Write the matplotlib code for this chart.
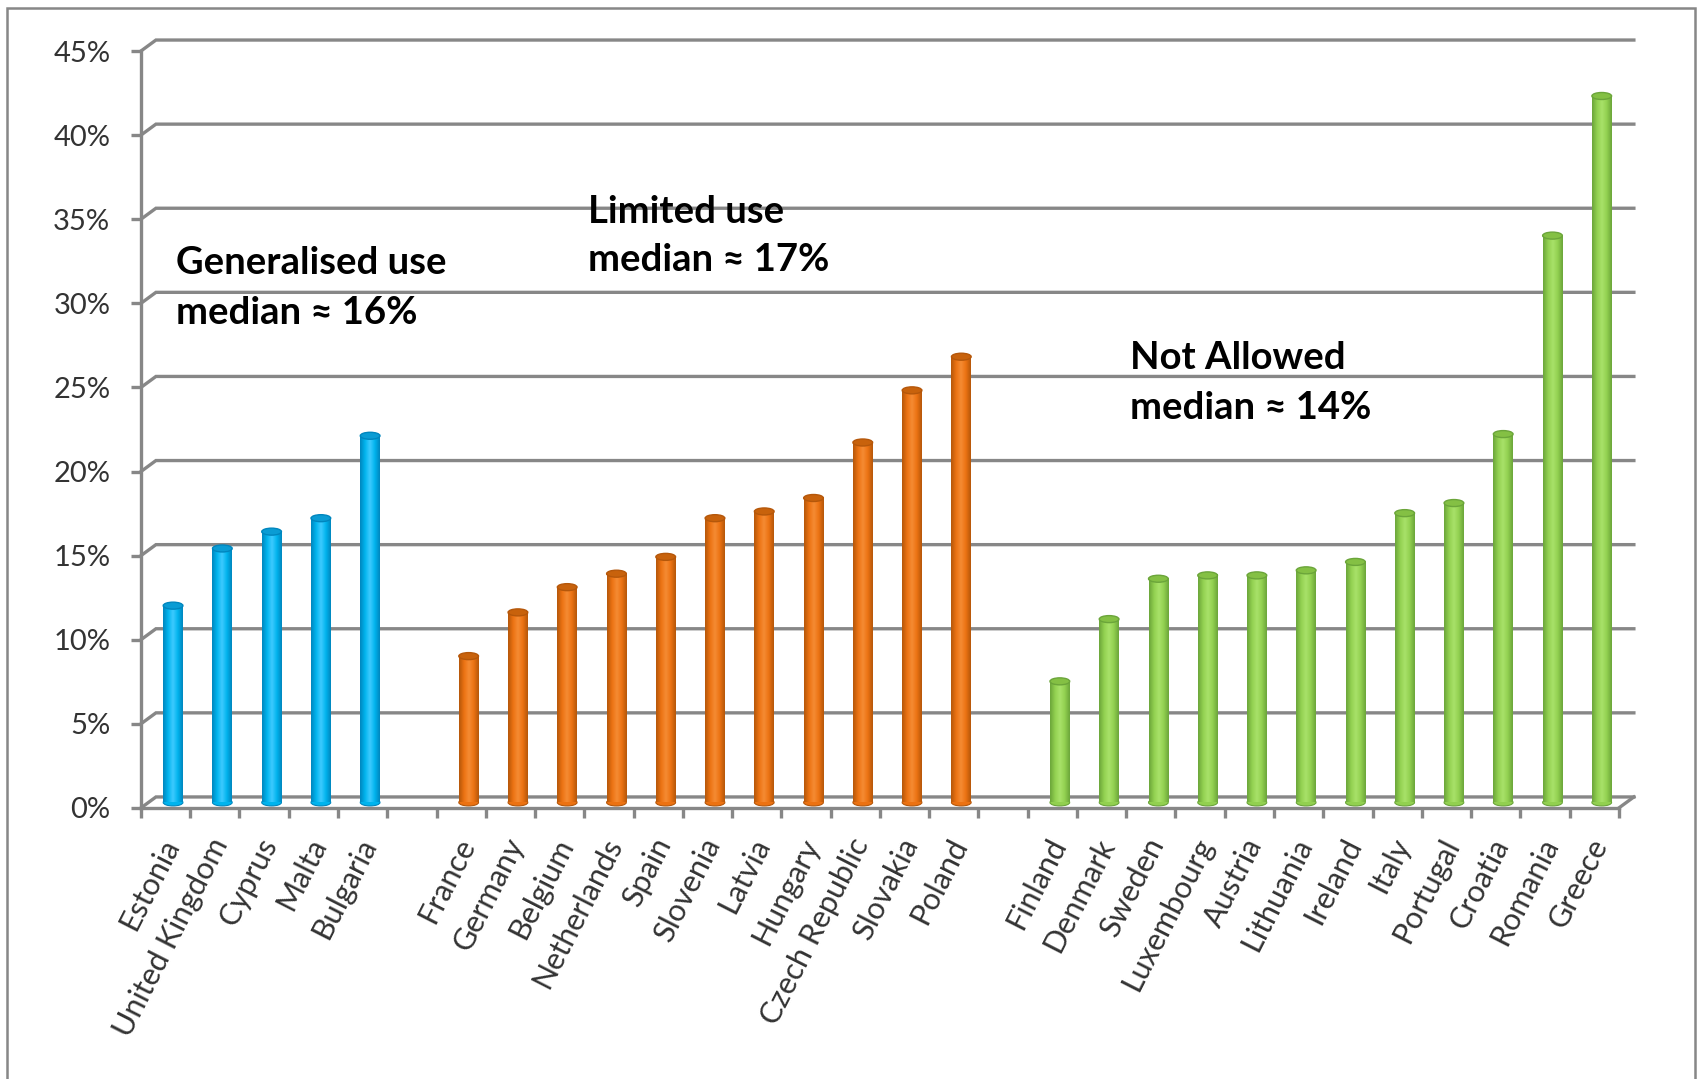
import matplotlib.pyplot as plt
import matplotlib.transforms as mtransforms
from matplotlib.patches import Ellipse, Rectangle
from matplotlib.colors import LinearSegmentedColormap
import numpy as np

plt.rcParams['font.family'] = ['Lato', 'DejaVu Sans']

# ryhmät: maa ja osuus (%)
gen_maat = ["Estonia", "United Kingdom", "Cyprus", "Malta", "Bulgaria"]
gen_arvot = [11.7, 15.1, 16.1, 16.9, 21.8]

lim_maat = ["France", "Germany", "Belgium", "Netherlands", "Spain", "Slovenia",
            "Latvia", "Hungary", "Czech Republic", "Slovakia", "Poland"]
lim_arvot = [8.7, 11.3, 12.8, 13.6, 14.6, 16.9, 17.3, 18.1, 21.4, 24.5, 26.5]

not_maat = ["Finland", "Denmark", "Sweden", "Luxembourg", "Austria", "Lithuania",
            "Ireland", "Italy", "Portugal", "Croatia", "Romania", "Greece"]
not_arvot = [7.2, 10.9, 13.3, 13.5, 13.5, 13.8, 14.3, 17.2, 17.8, 21.9, 33.7, 42.0]

otsikot = [("Generalised use", "median ≈ 16%"),
           ("Limited use", "median ≈ 17%"),
           ("Not Allowed", "median ≈ 14%")]

# värit: reuna, perus, korostus, kansi
varit = [("#0086BE", "#00B4EE", "#3FCBFF", "#0A9CD4"),
         ("#B5570A", "#EC7212", "#F58C34", "#C8620C"),
         ("#6BA53A", "#92D050", "#A9E26A", "#84C044")]

harmaa = "#878787"
teksti = "#333333"

ryhmat = [(gen_maat, gen_arvot), (lim_maat, lim_arvot), (not_maat, not_arvot)]

# paikat: ryhmien väliin yksi tyhjä sarake
paikat = []
kohta = 0
for maat, arvot in ryhmat:
    paikat.append(np.arange(len(maat)) + kohta + 0.5)
    kohta += len(maat) + 1
nsar = kohta - 1

fig = plt.figure(figsize=(16.98, 10.79), dpi=100)
ax = fig.add_axes([0.0830, 0.2512, 0.8704, 0.7015])
ax.set_xlim(0, nsar)
ax.set_ylim(0, 45)

# 3D-siirtymät datayksikköinä (takaseinä ja palkkien keskisyvyys)
px_x = 0.8704 * 1698 / nsar
px_y = 0.7015 * 1079 / 45
tx, ty = 15 / px_x, 11 / px_y
bx, by = 7.5 / px_x, 5.5 / px_y

for y in range(0, 46, 5):
    ax.plot([0, tx, nsar + tx], [y, y + ty, y + ty], color=harmaa, lw=2.4,
            clip_on=False, zorder=1, solid_joinstyle='miter')
ax.plot([nsar, nsar + tx], [0, ty], color=harmaa, lw=2.4, clip_on=False, zorder=1)

leveys = 0.40
kannen_kork = 7 / px_y
for g, (maat, arvot) in enumerate(ryhmat):
    reuna, perus, valo, kansi = varit[g]
    cmap = LinearSegmentedColormap.from_list("syl%d" % g,
                                             [reuna, perus, valo, perus, reuna])
    grad = np.linspace(0, 1, 64).reshape(1, -1)
    for x, v in zip(paikat[g], arvot):
        xc = x + bx
        ax.add_patch(Ellipse((xc, by), leveys, kannen_kork, facecolor=perus,
                             edgecolor=reuna, lw=0.8, zorder=2))
        ax.imshow(grad, extent=(xc - leveys / 2, xc + leveys / 2, by, v + by),
                  aspect='auto', cmap=cmap, interpolation='bicubic', zorder=3)
        ax.add_patch(Ellipse((xc, v + by), leveys, kannen_kork, facecolor=kansi,
                             edgecolor=reuna, lw=1.0, zorder=4))

ax.set_xlim(0, nsar)
ax.set_ylim(0, 45)

for s in ("top", "right"):
    ax.spines[s].set_visible(False)
for s in ("left", "bottom"):
    ax.spines[s].set_color(harmaa)
    ax.spines[s].set_linewidth(2.4)
    ax.spines[s].set_zorder(5)

ax.set_yticks(range(0, 46, 5), ["%d%%" % t for t in range(0, 46, 5)])
ax.tick_params(axis='y', length=7, width=2.4, color=harmaa, pad=15,
               labelsize=21, labelcolor=teksti)

kaikki_paikat = np.concatenate(paikat)
kaikki_maat = gen_maat + lim_maat + not_maat
ax.set_xticks(kaikki_paikat, kaikki_maat)
ax.set_xticks(np.arange(0, nsar + 1), minor=True)
ax.tick_params(axis='x', which='major', length=0, pad=23, labelsize=22,
               labelcolor=teksti)
ax.tick_params(axis='x', which='minor', length=7, width=2.4, color=harmaa)
siirto = mtransforms.ScaledTranslation(0.06, 0, fig.dpi_scale_trans)
for lab in ax.get_xticklabels():
    lab.set_rotation(63)
    lab.set_ha('right')
    lab.set_va('center')
    lab.set_rotation_mode('anchor')
    lab.set_transform(lab.get_transform() + siirto)

# tekstit ryhmien päällä
tekstipaikat = [(0.72, 31.75, 28.8), (9.08, 34.8, 31.9), (20.07, 26.1, 23.1)]
for (r1, r2), (x, y1, y2) in zip(otsikot, tekstipaikat):
    ax.text(x, y1, r1, fontsize=27.5, fontweight='bold', color='black',
            va='baseline', ha='left', zorder=6)
    ax.text(x, y2, r2, fontsize=27.5, fontweight='bold', color='black',
            va='baseline', ha='left', zorder=6)

# kaavion reunaviiva
fig.add_artist(Rectangle((7 / 1698, -0.02), (1695 - 7) / 1698, 1.02 - 8 / 1079,
                         transform=fig.transFigure, fill=False,
                         edgecolor=harmaa, lw=1.8))

plt.savefig("out.png", dpi=100)
